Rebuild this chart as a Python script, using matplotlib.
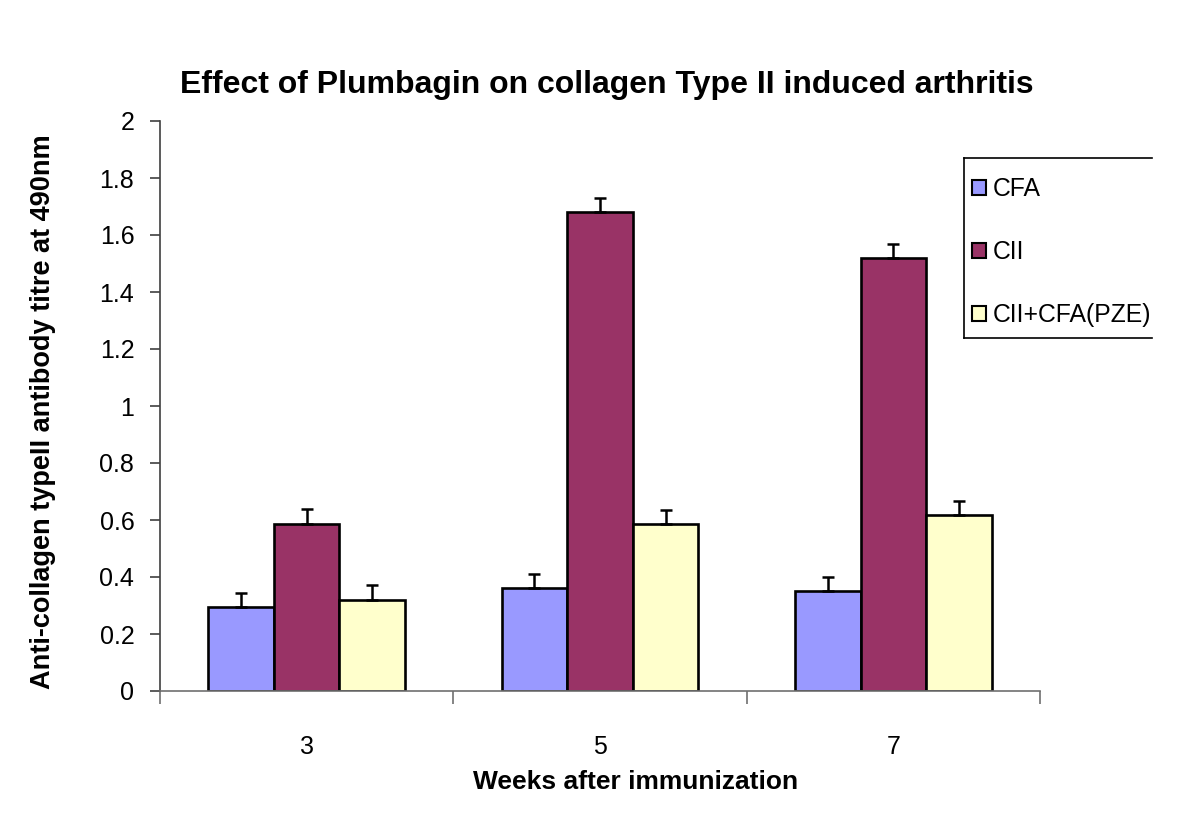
import matplotlib
matplotlib.use("Agg")
import matplotlib.pyplot as plt
import numpy as np
from matplotlib.patches import Patch
from matplotlib.lines import Line2D
from matplotlib.ticker import FixedLocator

plt.rcParams['font.family'] = ['Liberation Sans', 'DejaVu Sans']

weeks = ['3', '5', '7']
series_names = ['CFA', 'CII', 'CII+CFA(PZE)']
cfa = [0.295, 0.36, 0.35]
cfa_err = [0.05, 0.05, 0.05]
cii = [0.585, 1.68, 1.52]
cii_err = [0.055, 0.05, 0.05]
pze = [0.318, 0.585, 0.617]
pze_err = [0.055, 0.05, 0.05]
yticks = [0, 0.2, 0.4, 0.6, 0.8, 1, 1.2, 1.4, 1.6, 1.8, 2]
ytick_labels = ['0', '0.2', '0.4', '0.6', '0.8', '1', '1.2', '1.4', '1.6', '1.8', '2']

colors = ['#9999FF', '#993366', '#FFFFCC']

fig = plt.figure(figsize=(12, 8.18), dpi=100)
ax = fig.add_axes([160/1200, 1-691/818, 880/1200, 570/818])

x = np.arange(len(weeks))
w = 0.2236
data = [(cfa, cfa_err), (cii, cii_err), (pze, pze_err)]
for i, ((vals, errs), c) in enumerate(zip(data, colors)):
    pos = x + (i - 1) * w
    ax.bar(pos, vals, width=w, color=c, edgecolor='black', linewidth=1.9, zorder=2)
    ax.errorbar(pos, vals, yerr=[np.zeros(len(vals)), errs], fmt='none',
                ecolor='black', elinewidth=1.8, capsize=4.3, capthick=1.8, zorder=3)

ax.set_xlim(-0.5, 2.5)
ax.set_ylim(0, 2)
ax.set_yticks(yticks)
ax.set_yticklabels(ytick_labels, fontsize=18)
ax.set_xticks(x)
ax.set_xticklabels(weeks, fontsize=18)
ax.xaxis.set_minor_locator(FixedLocator([-0.5, 0.5, 1.5, 2.5]))
ax.tick_params(axis='x', which='major', length=0, pad=32)
ax.tick_params(axis='x', which='minor', length=9, width=1.2, color='#707070', direction='out')
ax.tick_params(axis='y', length=7.5, width=1.2, color='#404040', pad=11, direction='out')

for s in ['top', 'right']:
    ax.spines[s].set_visible(False)
ax.spines['left'].set_color('#404040')
ax.spines['left'].set_linewidth(1.2)
ax.spines['bottom'].set_color('#707070')
ax.spines['bottom'].set_linewidth(1.2)

ax.set_ylabel('Anti-collagen typeII antibody titre at 490nm', fontsize=19.5, fontweight='bold')
ax.yaxis.set_label_coords(-0.118, 0.49)
ax.set_xlabel('Weeks after immunization', fontsize=19, fontweight='bold')
ax.xaxis.set_label_coords(0.54, -0.139)

fig.text(0.506, 1-85/818, 'Effect of Plumbagin on collagen Type II induced arthritis',
         ha='center', va='center', fontsize=23, fontweight='bold')

handles = [Patch(facecolor=c, edgecolor='black', linewidth=1.5) for c in colors]
leg = fig.legend(handles, series_names, loc='upper left',
                 bbox_to_anchor=(972/1200, 1-177/818), frameon=False, fontsize=17.8,
                 handlelength=0.55, handleheight=0.55, handletextpad=0.3,
                 labelspacing=1.58, borderaxespad=0, borderpad=0)

# legend frame (right side cut off as in the reference)
lx0, lx1 = 964/1200, 1152/1200
ly0, ly1 = 1-338/818, 1-158/818
for xs, ys in [([lx0, lx1], [ly1, ly1]), ([lx0, lx1], [ly0, ly0]), ([lx0, lx0], [ly0, ly1])]:
    fig.add_artist(Line2D(xs, ys, color='black', linewidth=1.2, transform=fig.transFigure))

fig.savefig('out.png', dpi=100)
